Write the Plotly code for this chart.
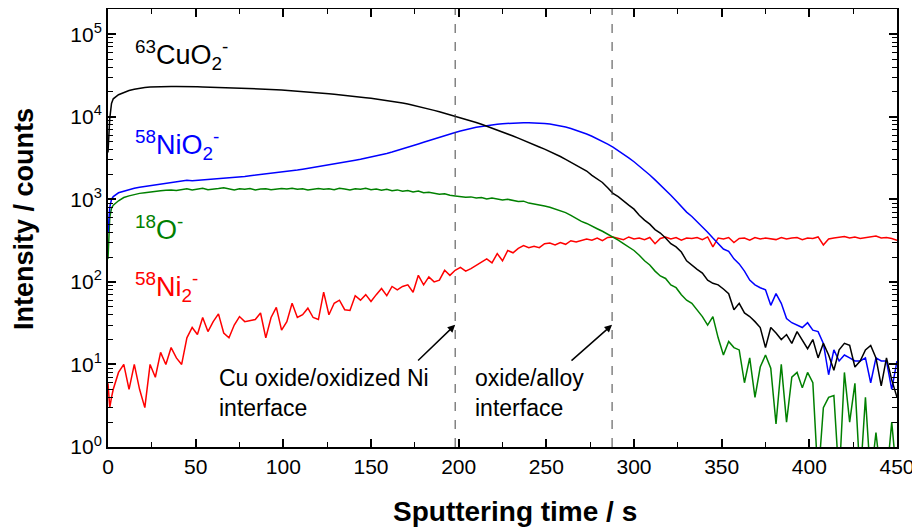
import plotly.graph_objects as go

# sputtering time axis (s)
time_s = [0, 1, 2] + list(range(3, 451, 3))

# intensities (counts)
cuo2 = [3700, 9500, 14500,
        16500, 18500, 19800, 20800, 21500, 22200, 22600, 22900, 23100, 23200,
        23300, 23300, 23200, 23300, 23200, 23100, 23100, 23000, 22900, 22800,
        22700, 22650, 22600, 22500, 22400, 22300, 22150, 22000, 21850, 21700,
        21500, 21300, 21100, 20900, 20700, 20450, 20200, 20000, 19750, 19500,
        19250, 19000, 18750, 18500, 18200, 17900, 17600, 17300, 17000, 16700,
        16400, 16100, 15800, 15450, 15100, 14700, 14300, 13850, 13400, 12950,
        12400, 11950, 11500, 11050, 10600, 10200, 9750, 9300, 8900, 8500,
        8100, 7700, 7300, 6900, 6550, 6200, 5850, 5500, 5200, 4900,
        4600, 4300, 4050, 3800, 3550, 3300, 3050, 2800, 2600, 2400,
        2200, 1950, 1750, 1600, 1380, 1180, 1080, 950, 850, 760,
        640, 560, 500, 430, 390, 340, 290, 265, 230, 180,
        158, 142, 128, 105, 96, 92, 82, 72, 46, 55,
        42, 38, 33, 28, 16, 28, 24, 20, 23, 18,
        25, 20, 15.5, 20, 12, 18, 13, 8.5, 15, 18,
        17, 9.3, 11, 15, 17, 12, 5.5, 12, 6.5, 4]

nio2 = [390, 800, 1000,
        1080, 1200, 1260, 1320, 1360, 1400, 1430, 1460, 1480, 1500,
        1540, 1580, 1600, 1640, 1700, 1680, 1700, 1720, 1730, 1740,
        1760, 1780, 1800, 1830, 1860, 1890, 1930, 1960, 1990, 2020,
        2056, 2089, 2128, 2168, 2213, 2259, 2312, 2366, 2421, 2483,
        2541, 2600, 2667, 2735, 2805, 2884, 2965, 3048, 3141, 3236,
        3342, 3459, 3589, 3733, 3890, 4064, 4256, 4457, 4677, 4909,
        5152, 5408, 5662, 5929, 6194, 6457, 6714, 6966, 7211, 7447,
        7600, 7800, 7970, 8120, 8250, 8350, 8420, 8460, 8480, 8480,
        8460, 8400, 8300, 8160, 7980, 7760, 7500, 7210, 6890, 6550,
        6180, 5800, 5420, 5040, 4660, 4280, 3900, 3530, 3180, 2850,
        2540, 2240, 1970, 1720, 1500, 1300, 1120, 960, 820, 700,
        620, 540, 470, 400, 340, 290, 250, 235, 190, 165,
        135, 105, 92, 85, 80, 52, 72, 55, 36, 32,
        30, 28, 32, 26, 25, 18, 7.5, 15, 11, 13,
        12, 11, 11, 12, 6, 12, 11, 11, 5, 11]

o18 = [190, 600, 780,
       850, 960, 1050, 1100, 1150, 1180, 1200, 1230, 1250, 1270,
       1290, 1300, 1280, 1320, 1340, 1300, 1330, 1360, 1310, 1320,
       1350, 1380, 1330, 1300, 1340, 1320, 1350, 1300, 1330, 1340,
       1310, 1340, 1350, 1330, 1360, 1320, 1340, 1300, 1330, 1350,
       1320, 1340, 1310, 1360, 1330, 1300, 1340, 1320, 1360, 1310,
       1330, 1290, 1320, 1270, 1300, 1250, 1280, 1230, 1260, 1200,
       1220, 1180, 1150, 1170, 1120, 1100, 1080, 1060, 1070, 1040,
       1050, 1010, 1040, 1000, 980, 1000, 960, 940, 950, 900,
       880, 860, 830, 800, 760, 720, 690, 640, 590, 540,
       510, 470, 440, 410, 380, 350, 320, 290, 265, 240,
       210, 180, 160, 135, 118, 110, 92, 85, 70, 60,
       55, 45, 38, 30, 38, 21, 13, 19, 16, 15,
       6, 12, 4, 9.3, 13, 9, 1.9, 10, 2, 7,
       8, 5.2, 8, 6, 0.4, 3, 4, 4.2, 0.4, 8,
       2, 5.9, 0.4, 4, 0.4, 1.5, 0.4, 0.4, 2, 0.4]

ni2 = [5.9, 3, 4,
       5, 8, 10, 5, 10, 5, 3, 10, 7, 14,
       10, 16, 12, 10, 21, 28, 23, 37, 25, 33,
       41, 24, 21, 30, 38, 33, 34, 35, 42, 21,
       37, 49, 26, 33, 55, 37, 40, 48, 37, 35,
       75, 40, 55, 60, 46, 45, 68, 60, 70, 58,
       70, 83, 68, 88, 80, 88, 92, 75, 120, 92,
       115, 100, 105, 138, 120, 138, 150, 135, 145, 160,
       175, 190, 170, 220, 180, 240, 225, 255, 275, 260,
       270, 260, 290, 295, 280, 300, 285, 315, 305, 320,
       330, 320, 340, 315, 345, 350, 335, 325, 350, 330,
       340, 325, 345, 290, 335, 350, 330, 345, 320, 340,
       335, 345, 325, 350, 265, 340, 330, 345, 300, 335,
       340, 320, 345, 330, 340, 335, 325, 345, 330, 340,
       345, 325, 340, 335, 350, 280, 330, 340, 345, 355,
       340, 350, 335, 345, 350, 360, 340, 345, 335, 320]

interfaces = [198, 287.5]

FONT = "Arial, Liberation Sans, sans-serif"

fig = go.Figure()

for y, color in [(ni2, "#ff0000"), (o18, "#008000"), (nio2, "#0000ff"), (cuo2, "#000000")]:
    fig.add_trace(go.Scatter(x=time_s, y=y, mode="lines",
                             line=dict(color=color, width=1.5),
                             showlegend=False, hoverinfo="skip"))

for xi in interfaces:
    fig.add_vline(x=xi, line=dict(color="#444444", width=1, dash="dash"))

# species labels (y in log10 units)
labels = [
    ("<sup>63</sup>CuO<sub>2</sub><sup>-</sup>", 4.75, "#000000"),
    ("<sup>58</sup>NiO<sub>2</sub><sup>-</sup>", 3.66, "#0000ff"),
    ("<sup>18</sup>O<sup>-</sup>", 2.65, "#008000"),
    ("<sup>58</sup>Ni<sub>2</sub><sup>-</sup>", 1.94, "#ff0000"),
]
for text, ylog, color in labels:
    fig.add_annotation(x=14, y=ylog, text=text, showarrow=False,
                       xanchor="left", yanchor="middle",
                       font=dict(family=FONT, size=27, color=color))

# interface arrows
for x_tail, x_head in [(176, 198), (263.5, 287.5)]:
    fig.add_annotation(x=x_head, y=1.48, ax=x_tail, ay=1.03,
                       xref="x", yref="y", axref="x", ayref="y",
                       text="", showarrow=True, arrowhead=2, arrowsize=1,
                       arrowwidth=1.5, arrowcolor="black")

fig.add_annotation(x=62, y=0.66, text="Cu oxide/oxidized Ni<br>interface",
                   showarrow=False, xanchor="left", yanchor="middle", align="left",
                   font=dict(family=FONT, size=23, color="black"))
fig.add_annotation(x=208, y=0.66, text="oxide/alloy<br>interface",
                   showarrow=False, xanchor="left", yanchor="middle", align="left",
                   font=dict(family=FONT, size=23, color="black"))

# axis titles
fig.add_annotation(x=0.516, y=-0.148, xref="paper", yref="paper",
                   text="<b>Sputtering time / s</b>", showarrow=False,
                   xanchor="center", yanchor="middle",
                   font=dict(family=FONT, size=28, color="black"))
fig.add_annotation(x=-0.1065, y=0.5205, xref="paper", yref="paper",
                   text="<b>Intensity / counts</b>", showarrow=False, textangle=-90,
                   xanchor="center", yanchor="middle",
                   font=dict(family=FONT, size=27, color="black"))

minor_y = [m * 10 ** k for k in range(0, 6) for m in range(2, 10)]

fig.update_xaxes(range=[0, 450], dtick=50, tick0=0, automargin=False,
                 ticks="inside", ticklen=8, tickwidth=1.5, tickcolor="black",
                 minor=dict(dtick=25, ticks="inside", ticklen=5, tickwidth=1.2, tickcolor="black"),
                 showline=True, linecolor="black", linewidth=2, mirror="allticks",
                 showgrid=False, zeroline=False,
                 tickfont=dict(family=FONT, size=21, color="black"))

fig.update_yaxes(type="log", range=[0, 5.305], automargin=False,
                 tickvals=[1, 10, 100, 1000, 10000, 100000],
                 ticktext=["10<sup>0</sup>", "10<sup>1</sup>", "10<sup>2</sup>",
                           "10<sup>3</sup>", "10<sup>4</sup>", "10<sup>5</sup>"],
                 ticks="inside", ticklen=8, tickwidth=1.5, tickcolor="black",
                 minor=dict(tickvals=minor_y, ticks="inside", ticklen=5, tickwidth=1.2,
                            tickcolor="black"),
                 showline=True, linecolor="black", linewidth=2, mirror="allticks",
                 showgrid=False, zeroline=False,
                 tickfont=dict(family=FONT, size=21, color="black"))

# page body adds an 8px offset; margins compensate so the plot box lands in place
fig.update_layout(width=920, height=529,
                  margin=dict(l=100, r=31, t=1, b=90),
                  plot_bgcolor="white", paper_bgcolor="white",
                  showlegend=False)

fig.write_html("out.html")
